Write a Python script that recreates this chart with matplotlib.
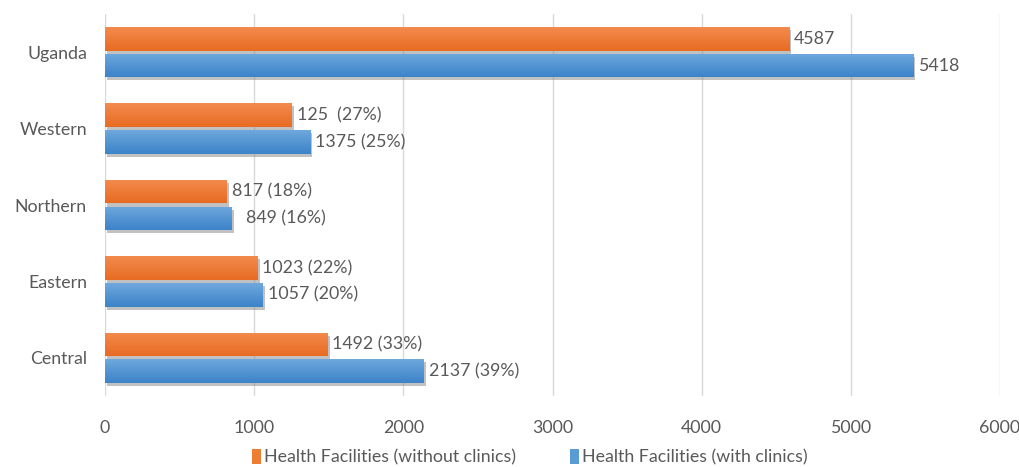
import matplotlib
matplotlib.use("Agg")
import matplotlib.pyplot as plt
import numpy as np
from matplotlib.colors import LinearSegmentedColormap
from matplotlib.patches import Patch
import matplotlib.patheffects as pe

categories = ["Central", "Eastern", "Northern", "Western", "Uganda"]
without_clinics = [1492, 1023, 817, 1253, 4587]
with_clinics = [2137, 1057, 849, 1375, 5418]
without_labels = ["1492 (33%)", "1023 (22%)", "817 (18%)", "125  (27%)", "4587"]
with_labels = ["2137 (39%)", "1057 (20%)", "  849 (16%)", "1375 (25%)", "5418"]
xticks = [0, 1000, 2000, 3000, 4000, 5000, 6000]

plt.rcParams['font.family'] = ['Lato', 'DejaVu Sans']
text_color = "#595959"
fs = 12.8

fig = plt.figure(figsize=(10.19, 4.67), dpi=100)
ax = fig.add_axes([105/1019, 1-396/467, 895/1019, 382/467])

orange_cmap = LinearSegmentedColormap.from_list("o", ["#F38B4E", "#E86B22"])
blue_cmap = LinearSegmentedColormap.from_list("b", ["#6EA8DD", "#3C83C9"])

h = 0.31
off = 0.175
grad = np.linspace(0, 1, 64).reshape(-1, 1)

def draw_bars(y, vals, cmap, base_color, labels):
    bars = ax.barh(y, vals, height=h, color=base_color, zorder=3,
                   path_effects=[pe.SimplePatchShadow(offset=(1.5, -2.2), shadow_rgbFace="#666666", alpha=0.4),
                                 pe.Normal()])
    for b, v, lab in zip(bars, vals, labels):
        y0 = b.get_y()
        im = ax.imshow(grad, cmap=cmap, aspect="auto",
                       extent=(0, v, y0, y0 + h), origin="upper", zorder=4)
        im.set_clip_path(b)
        ax.annotate(lab, xy=(v, y0 + h/2), xytext=(3.5, 0), textcoords="offset points",
                    va="center", ha="left", fontsize=fs, color=text_color, zorder=5)

ypos = np.arange(len(categories))
draw_bars(ypos + off, without_clinics, orange_cmap, "#ED7D31", without_labels)
draw_bars(ypos - off, with_clinics, blue_cmap, "#5B9BD5", with_labels)

ax.set_xlim(0, 6000)
ax.set_ylim(-0.5, 4.5)
ax.set_xticks(xticks)
ax.set_xticklabels([str(t) for t in xticks], fontsize=fs, color=text_color)
ax.set_yticks(ypos)
ax.set_yticklabels(categories, fontsize=fs, color=text_color)
ax.tick_params(axis="both", length=0)
ax.tick_params(axis="x", pad=17)
ax.tick_params(axis="y", pad=13)
for s in ax.spines.values():
    s.set_visible(False)
ax.grid(axis="x", color="#D9D9D9", linewidth=1, zorder=0)
ax.set_axisbelow(True)

handles = [Patch(facecolor="#ED7D31", label="Health Facilities (without clinics)"),
           Patch(facecolor="#5B9BD5", label="Health Facilities (with clinics)")]
leg = fig.legend(handles=handles, loc="center", bbox_to_anchor=(0.52, 0.021), ncol=2,
                 frameon=False, handlelength=0.5, handleheight=0.9, handletextpad=0.2,
                 columnspacing=3.0, fontsize=fs)
for t in leg.get_texts():
    t.set_color(text_color)

fig.savefig("out.png", dpi=100)
